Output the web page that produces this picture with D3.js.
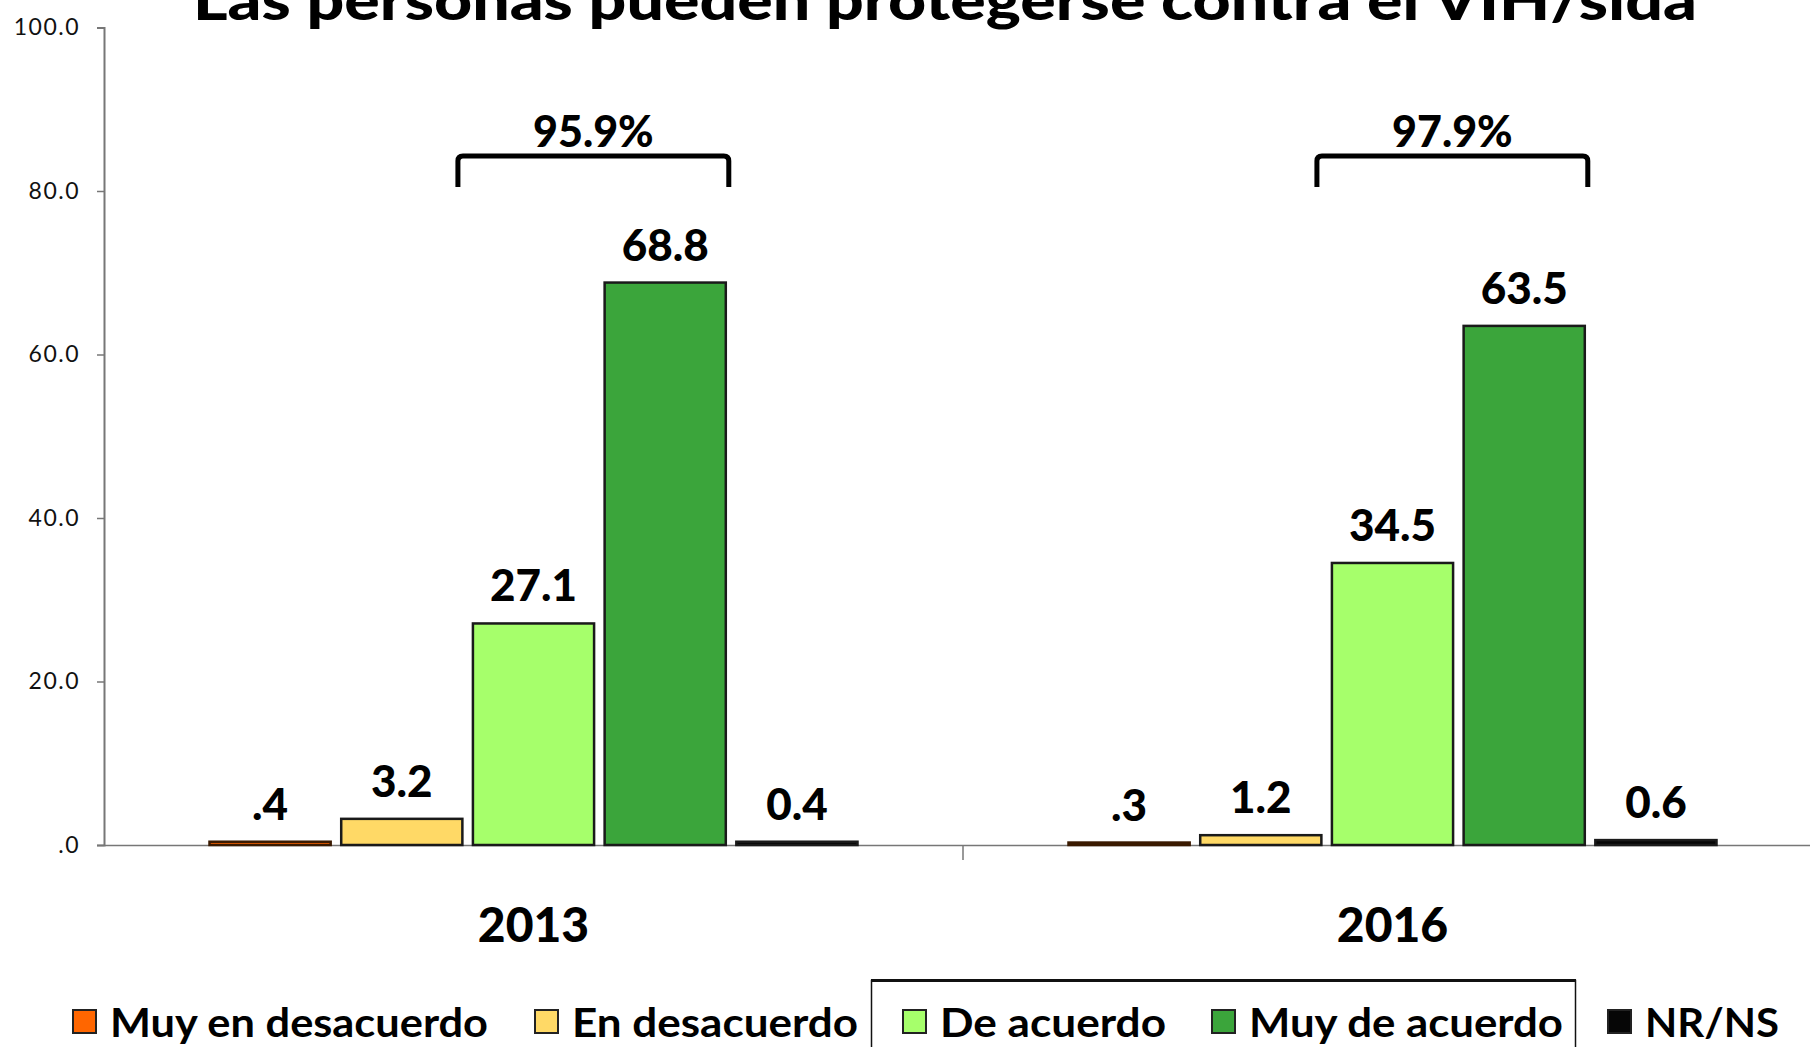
<!DOCTYPE html>
<html>
<head>
<meta charset="utf-8">
<script src="https://cdn.jsdelivr.net/npm/d3@7/dist/d3.min.js"></script>
<style>
  body { margin: 0; background: #fff; }
  svg { display: block; font-family: Lato, "Open Sans", sans-serif; }
</style>
</head>
<body>
<div id="chart"></div>
<script>
// chart data
const years = ['2013', '2016'];
const categories = ['Muy en desacuerdo', 'En desacuerdo', 'De acuerdo', 'Muy de acuerdo', 'NR/NS'];
const values2013 = [0.4, 3.2, 27.1, 68.8, 0.4];
const values2016 = [0.3, 1.2, 34.5, 63.5, 0.6];
const valueLabels2013 = ['.4', '3.2', '27.1', '68.8', '0.4'];
const valueLabels2016 = ['.3', '1.2', '34.5', '63.5', '0.6'];
const bracketLabels = ['95.9%', '97.9%'];
const yTicks = [0, 20, 40, 60, 80, 100];
const yTickLabels = ['.0', '20.0', '40.0', '60.0', '80.0', '100.0'];
const colors = ['#ff6600', '#ffd966', '#a6ff6b', '#3ba53b', '#060606'];
const title = 'Las personas pueden protegerse contra el VIH/sida';

const width = 1810, height = 1047;
const svg = d3.select('#chart').append('svg')
    .attr('width', width)
    .attr('height', height);

const x0 = d3.scaleBand().domain(years).range([104, 1822]);
const x1 = d3.scaleBand().domain(categories)
    .range([x0.bandwidth() / 2 - 324, x0.bandwidth() / 2 + 324])
    .paddingInner(0.08);
const y = d3.scaleLinear().domain([0, 100]).range([845, 27.5]);

const rows = years.map((yr, i) => ({
    year: yr,
    values: i === 0 ? values2013 : values2016,
    labels: i === 0 ? valueLabels2013 : valueLabels2016,
    bracket: bracketLabels[i]
}));

// title
svg.append('text')
    .attr('x', 193).attr('y', 20)
    .attr('textLength', 1504)
    .attr('lengthAdjust', 'spacingAndGlyphs')
    .attr('font-size', 56)
    .attr('font-weight', 900)
    .text(title);

// y axis
const yAxis = svg.append('g')
    .attr('transform', 'translate(104,0)')
    .call(d3.axisLeft(y).tickValues(yTicks)
        .tickFormat((d, i) => yTickLabels[i]).tickSize(7).tickPadding(17));
yAxis.select('.domain').attr('stroke', '#777').attr('stroke-width', 2);
yAxis.selectAll('.tick line').attr('stroke', '#777').attr('stroke-width', 1.5);
yAxis.selectAll('.tick text')
    .attr('font-size', 23).attr('letter-spacing', 1.5)
    .attr('font-family', 'Lato, sans-serif').attr('fill', '#111');

// x axis line
const xAxis = svg.append('g')
    .attr('transform', 'translate(0,' + y(0) + ')')
    .call(d3.axisBottom(x0).tickSize(0).tickFormat(''));
xAxis.select('.domain').attr('stroke', '#777').attr('stroke-width', 1.5);
xAxis.append('line')
    .attr('x1', x0('2016')).attr('x2', x0('2016'))
    .attr('y1', 0).attr('y2', 15)
    .attr('stroke', '#777').attr('stroke-width', 1.5);

// bars
const groups = svg.selectAll('.group').data(rows).enter().append('g')
    .attr('class', 'group')
    .attr('transform', d => 'translate(' + x0(d.year) + ',0)');

groups.selectAll('rect')
    .data(d => d.values.map((v, i) => ({cat: categories[i], v: v, label: d.labels[i], i: i})))
    .enter().append('rect')
    .attr('x', d => x1(d.cat))
    .attr('y', d => y(d.v))
    .attr('width', x1.bandwidth())
    .attr('height', d => y(0) - y(d.v))
    .attr('fill', d => colors[d.i])
    .attr('stroke', d => d.i === 0 ? '#3a1a00' : '#1a1a1a')
    .attr('stroke-width', 2.5);

groups.selectAll('.vlabel')
    .data(d => d.values.map((v, i) => ({cat: categories[i], v: v, label: d.labels[i]})))
    .enter().append('text')
    .attr('class', 'vlabel')
    .attr('x', d => x1(d.cat) + x1.bandwidth() / 2)
    .attr('y', d => y(d.v) - 22)
    .attr('text-anchor', 'middle')
    .attr('font-size', 44)
    .attr('font-weight', 900)
    .text(d => d.label);

// brackets over "De acuerdo" + "Muy de acuerdo"
groups.each(function(d) {
    const g = d3.select(this);
    const left = x1(categories[2]) - 15;
    const right = x1(categories[3]) + x1.bandwidth() + 3;
    const top = 156, bottom = 187;
    g.append('path')
        .attr('d', 'M' + left + ',' + bottom + 'L' + left + ',' + (top + 5) +
            'Q' + left + ',' + top + ' ' + (left + 5) + ',' + top +
            'L' + (right - 5) + ',' + top +
            'Q' + right + ',' + top + ' ' + right + ',' + (top + 5) +
            'L' + right + ',' + bottom)
        .attr('fill', 'none')
        .attr('stroke', '#000')
        .attr('stroke-width', 5);
    g.append('text')
        .attr('x', (left + right) / 2)
        .attr('y', 147)
        .attr('text-anchor', 'middle')
        .attr('font-size', 43)
        .attr('font-weight', 900)
        .text(d.bracket);
});

// category labels
svg.selectAll('.yearlabel').data(years).enter().append('text')
    .attr('class', 'yearlabel')
    .attr('x', d => x0(d) + x0.bandwidth() / 2)
    .attr('y', 942)
    .attr('text-anchor', 'middle')
    .attr('font-size', 48)
    .attr('font-weight', 900)
    .text(d => d);

// legend
const legendX = [73, 535, 903, 1212, 1608];
const legendTextW = [378, 286, 226, 314, 134];
svg.append('rect')
    .attr('x', 871.5).attr('y', 980.5)
    .attr('width', 704).attr('height', 80)
    .attr('fill', 'none')
    .attr('stroke', '#111').attr('stroke-width', 1.5);
svg.append('line')
    .attr('x1', 871).attr('x2', 1576).attr('y1', 980.5).attr('y2', 980.5)
    .attr('stroke', '#111').attr('stroke-width', 3);

const legend = svg.selectAll('.legend').data(categories).enter().append('g')
    .attr('class', 'legend')
    .attr('transform', (d, i) => 'translate(' + legendX[i] + ',1010)');
legend.append('rect')
    .attr('width', 23).attr('height', 23)
    .attr('fill', (d, i) => colors[i])
    .attr('stroke', '#222').attr('stroke-width', 2);
legend.append('text')
    .attr('x', 37).attr('y', 27)
    .attr('font-size', 40)
    .attr('font-weight', 700)
    .attr('textLength', (d, i) => legendTextW[i])
    .attr('lengthAdjust', 'spacingAndGlyphs')
    .text(d => d);
</script>
</body>
</html>
